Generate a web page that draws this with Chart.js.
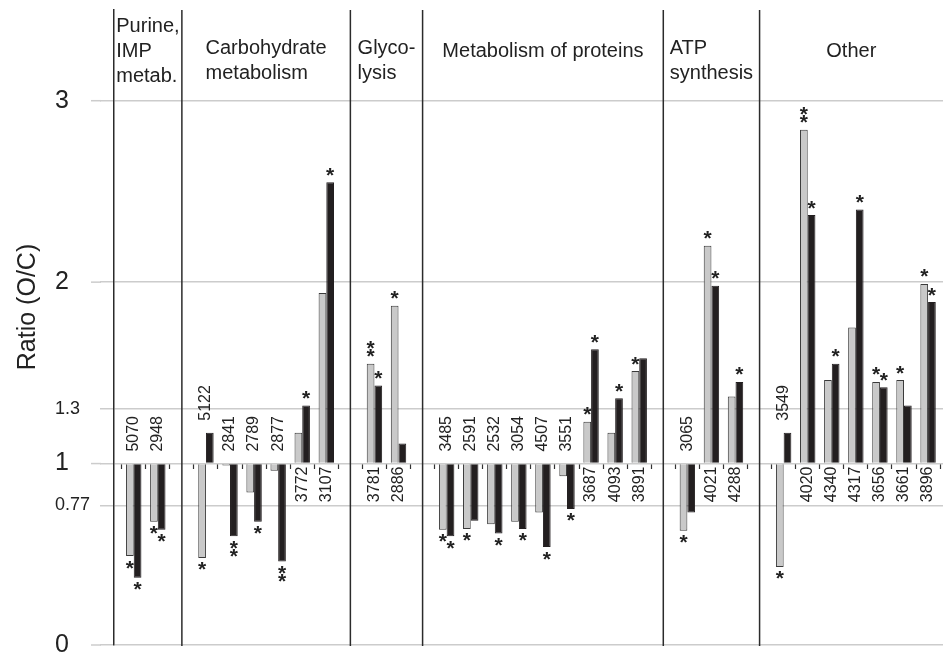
<!DOCTYPE html>
<html>
<head>
<meta charset="utf-8">
<script src="https://cdn.jsdelivr.net/npm/chart.js@4/dist/chart.umd.min.js"></script>
<style>
  html, body { margin: 0; padding: 0; background: #ffffff; }
  #wrap { width: 943px; height: 655px; }
</style>
</head>
<body>
<div id="wrap"><canvas id="c" width="943" height="655"></canvas></div>
<script>
// Functional groups (header lines) and how many proteins each holds
const groupNames = [
  ['Purine,', 'IMP', 'metab.'],
  ['Carbohydrate', 'metabolism'],
  ['Glyco-', 'lysis'],
  ['Metabolism of proteins'],
  ['ATP', 'synthesis'],
  ['Other']
];
const groupSizes = [2, 6, 2, 9, 3, 7];

// Protein spot numbers, in drawing order
const proteinIds = [
  '5070', '2948',
  '5122', '2841', '2789', '2877', '3772', '3107',
  '3781', '2886',
  '3485', '2591', '2532', '3054', '4507', '3551', '3687', '4093', '3891',
  '3065', '4021', '4288',
  '3549', '4020', '4340', '4317', '3656', '3661', '3896'
];

// Ratio (O/C), light grey series and black series
const grayRatio = [
  0.49, 0.68,
  0.48, 0.99, 0.84, 0.96, 1.17, 1.94,
  1.55, 1.87,
  0.635, 0.64, 0.665, 0.68, 0.73, 0.93, 1.23, 1.17, 1.51,
  0.63, 2.20, 1.37,
  0.43, 2.84, 1.46, 1.75, 1.45, 1.46, 1.99
];
const blackRatio = [
  0.37, 0.635,
  1.17, 0.60, 0.68, 0.46, 1.32, 2.55,
  1.43, 1.11,
  0.60, 0.685, 0.615, 0.64, 0.54, 0.75, 1.63, 1.36, 1.58,
  0.73, 1.98, 1.45,
  1.17, 2.37, 1.55, 2.40, 1.42, 1.32, 1.89
];

// Significance marks (number of asterisks) per bar
const grayStars = [
  1, 1,
  1, 0, 0, 0, 0, 0,
  2, 1,
  1, 1, 0, 0, 0, 0, 1, 0, 1,
  1, 1, 0,
  1, 2, 0, 0, 1, 1, 1
];
const blackStars = [
  1, 1,
  0, 2, 1, 2, 1, 1,
  1, 0,
  1, 0, 1, 1, 1, 1, 1, 1, 0,
  0, 1, 1,
  0, 1, 1, 1, 1, 0, 1
];

// Value axis ticks
const yTickValues = [0, 0.77, 1, 1.3, 2, 3];
const yTickLabels = ['0', '0.77', '1', '1.3', '2', '3'];
const majorTicks = [0, 1, 2, 3];

// ---- layout of slots: one empty slot between groups holds the divider ----
const slots = [];
const dividers = [];
let slotCursor = 0;
groupSizes.forEach((n, g) => {
  for (let i = 0; i < n; i++) slots.push(slotCursor++);
  if (g < groupSizes.length - 1) dividers.push(slotCursor++);
});
const slotCount = slotCursor;
const slotEdges = [];
for (let i = 0; i <= slotCount; i++) slotEdges.push(i - 0.5);

const FONT = "'Liberation Sans', Arial, Helvetica, sans-serif";
const INK = '#222222';
const GRID = '#cccccc';
const RULE = '#2b2b2b';
const GREY_FILL = '#c9c9c9';
const BLACK_FILL = '#231f20';

Chart.defaults.font.family = FONT;
Chart.defaults.color = INK;

const decor = {
  id: 'decor',
  beforeDatasetsDraw(chart) {
    const { ctx, chartArea: ca, scales: { x, y } } = chart;
    ctx.save();
    // longer tick stubs for the whole-number ratios
    ctx.strokeStyle = GRID;
    ctx.lineWidth = 1.5;
    majorTicks.forEach(v => {
      const py = y.getPixelForValue(v);
      ctx.beginPath();
      ctx.moveTo(ca.left - 23, py);
      ctx.lineTo(ca.left - 13, py);
      ctx.stroke();
    });
    // group dividers
    ctx.strokeStyle = RULE;
    ctx.lineWidth = 1.5;
    dividers.forEach(s => {
      const px = x.getPixelForValue(s);
      ctx.beginPath();
      ctx.moveTo(px, ca.top);
      ctx.lineTo(px, ca.bottom + 1);
      ctx.stroke();
    });
    ctx.restore();
  },
  afterDatasetsDraw(chart) {
    const { ctx, chartArea: ca, scales: { x, y } } = chart;
    const metaG = chart.getDatasetMeta(0);
    const metaB = chart.getDatasetMeta(1);
    const yOne = y.getPixelForValue(1);
    ctx.save();
    ctx.fillStyle = INK;

    // protein numbers, rotated
    ctx.font = '16px ' + FONT;
    ctx.textBaseline = 'middle';
    proteinIds.forEach((id, k) => {
      const g = metaG.data[k];
      const b = metaB.data[k];
      const cx = x.getPixelForValue(slots[k]);
      let anchor;
      ctx.save();
      if (grayRatio[k] < 1 || blackRatio[k] < 1) {
        anchor = Math.min(yOne, g.y, b.y) - 12;
        ctx.textAlign = 'left';
      } else {
        anchor = yOne + 3;
        ctx.textAlign = 'right';
      }
      ctx.translate(cx, anchor);
      ctx.rotate(-Math.PI / 2);
      ctx.fillText(id, 0, 0);
      ctx.restore();
    });

    // asterisks
    ctx.font = 'bold 21px ' + FONT;
    ctx.textAlign = 'center';
    ctx.textBaseline = 'alphabetic';
    const m = ctx.measureText('*');
    const shift = (m.actualBoundingBoxAscent - m.actualBoundingBoxDescent) / 2;
    const mark = (meta, values, counts) => {
      counts.forEach((n, k) => {
        const el = meta.data[k];
        const up = values[k] > 1;
        for (let j = 0; j < n; j++) {
          const cy = up ? el.y - 10.5 - 8.3 * j : el.y + 8.5 + 8.3 * j;
          ctx.fillText('*', el.x, cy + shift);
        }
      });
    };
    mark(metaG, grayRatio, grayStars);
    mark(metaB, blackRatio, blackStars);

    // group headers
    ctx.font = '20px ' + FONT;
    ctx.textAlign = 'left';
    ctx.textBaseline = 'alphabetic';
    const bounds = [ca.left].concat(dividers.map(s => x.getPixelForValue(s)), [ca.right]);
    groupNames.forEach((lines, g) => {
      const L = bounds[g], R = bounds[g + 1];
      const w = Math.max(...lines.map(t => ctx.measureText(t).width));
      const left = Math.max(L + 2, (L + R) / 2 - w / 2);
      const first = lines.length === 3 ? 32 : lines.length === 2 ? 54 : 57;
      lines.forEach((t, i) => ctx.fillText(t, left, first + 25 * i));
    });

    // value axis title
    ctx.font = '25px ' + FONT;
    ctx.textAlign = 'center';
    ctx.textBaseline = 'alphabetic';
    ctx.translate(35, 307);
    ctx.rotate(-Math.PI / 2);
    ctx.fillText('Ratio (O/C)', 0, 0);
    ctx.restore();
  }
};

new Chart(document.getElementById('c'), {
  type: 'bar',
  data: {
    datasets: [
      {
        label: 'grey',
        data: slots.map((s, k) => ({ x: s, y: grayRatio[k] })),
        base: 1,
        backgroundColor: GREY_FILL,
        borderColor: '#3a3a3a',
        borderWidth: 1,
        categoryPercentage: 0.64,
        barPercentage: 1
      },
      {
        label: 'black',
        data: slots.map((s, k) => ({ x: s, y: blackRatio[k] })),
        base: 1,
        backgroundColor: BLACK_FILL,
        borderColor: BLACK_FILL,
        borderWidth: 1,
        categoryPercentage: 0.64,
        barPercentage: 1
      }
    ]
  },
  options: {
    responsive: false,
    animation: false,
    events: [],
    layout: { padding: { top: 10, bottom: 10, left: 55, right: 0 } },
    plugins: { legend: { display: false }, tooltip: { enabled: false }, title: { display: false } },
    scales: {
      x: {
        type: 'linear',
        position: { y: 1 },
        min: -0.82,
        max: slotCount - 0.38,
        offset: false,
        afterBuildTicks: (scale) => { scale.ticks = slotEdges.map(v => ({ value: v })); },
        ticks: { display: false, autoSkip: false },
        grid: {
          display: true,
          drawOnChartArea: false,
          drawTicks: true,
          tickLength: 5,
          tickColor: '#333333',
          tickWidth: 1.2,
          offset: false
        },
        border: { display: false }
      },
      y: {
        type: 'linear',
        position: 'left',
        min: 0,
        max: 3.5,
        afterBuildTicks: (scale) => { scale.ticks = yTickValues.map(v => ({ value: v })); },
        afterFit: (scale) => { scale.width = 59; scale.paddingTop = 0; scale.paddingBottom = 0; },
        ticks: {
          autoSkip: false,
          crossAlign: 'far',
          padding: 10,
          color: INK,
          callback: (v) => yTickLabels[yTickValues.indexOf(v)],
          font: (c) => ({ size: (c.tick && majorTicks.includes(c.tick.value)) ? 25 : 18, family: FONT })
        },
        grid: {
          color: GRID,
          lineWidth: 1.5,
          drawTicks: true,
          tickLength: 14,
          tickColor: GRID
        },
        border: { display: true, color: RULE, width: 1.5 }
      }
    }
  },
  plugins: [decor]
});
</script>
</body>
</html>
